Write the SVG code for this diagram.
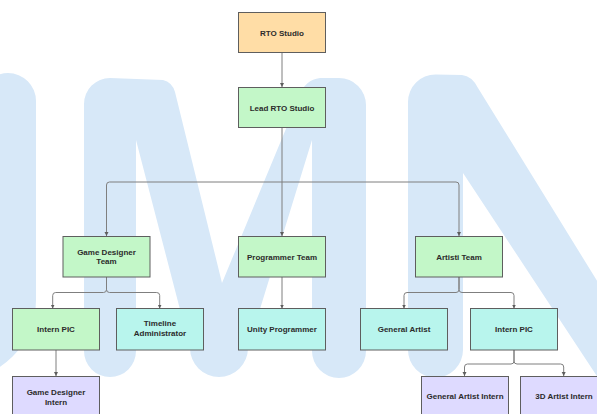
<svg xmlns="http://www.w3.org/2000/svg" width="597" height="414" viewBox="0 0 597 414">
<defs>
<style>
.box{stroke:#5e5e5e;stroke-width:1}
.or{fill:#ffdda6}.gr{fill:#c3f7c8}.cy{fill:#b8f5ed}.pu{fill:#dedaff}
.t{font-family:"Liberation Sans",Arial,sans-serif;font-size:8px;font-weight:bold;fill:#2b2b2b;text-anchor:middle}
.c{fill:none;stroke:#7f7f7f;stroke-width:1;marker-end:url(#arr)}
.wm{fill:#d7e8f8}
</style>
<marker id="arr" markerWidth="5" markerHeight="5" refX="4" refY="2.5" orient="auto" markerUnits="userSpaceOnUse">
<path d="M0,0.5 L4,2.5 L0,4.5 z" fill="#5e5e5e"/>
</marker>
</defs>
<rect width="597" height="414" fill="#ffffff"/>
<g id="watermark">
<path class="wm" d="M-20,101 A28,28 0 0 1 36,101 L36,300 A80,80 0 0 1 -44,380 Z"/>
<path class="wm" d="M84,351 L84,104 A26,26 0 0 1 110,78 L163,80 Q172,82 175,92 L222,283 L300,95 Q305,80 320,78 L339,78 A27,27 0 0 1 366,105 L366,351 A27,27 0 0 1 312,351 L312,140 L248,348 A29,29 0 0 1 190,348 L136,140 L136,351 A26,26 0 0 1 84,351 Z"/>
<path class="wm" d="M408,350 L408,102 A27.5,27.5 0 0 1 435.5,74.5 L462,75 Q472,76 478,88 L620,318 L620,411 L463,173 L463,350 A27.5,27.5 0 0 1 408,350 Z"/>
</g>
<g id="connectors">
<path class="c" d="M282,53 V87"/>
<path class="c" d="M282,128 V236"/>
<path class="c" d="M282,182 H109.5 Q106.5,182 106.5,185 V236"/>
<path class="c" d="M282,182 H456 Q459,182 459,185 V236"/>
<path class="c" d="M106.5,277 V289.5 Q106.5,292.5 103.5,292.5 H55.7 Q52.7,292.5 52.7,295.5 V308.5"/>
<path class="c" d="M106.5,277 V289.5 Q106.5,292.5 109.5,292.5 H156.7 Q159.7,292.5 159.7,295.5 V308.5"/>
<path class="c" d="M282,277 V308.5"/>
<path class="c" d="M459,277 V289.5 Q459,292.5 456,292.5 H407 Q404,292.5 404,295.5 V308.5"/>
<path class="c" d="M459,277 V289.5 Q459,292.5 462,292.5 H511 Q514,292.5 514,295.5 V308.5"/>
<path class="c" d="M56,350 V376"/>
<path class="c" d="M514,350 V361 Q514,364 511,364 H467.5 Q464.5,364 464.5,367 V376"/>
<path class="c" d="M514,350 V361 Q514,364 517,364 H560.7 Q563.7,364 563.7,367 V376"/>
</g>
<g id="rto-studio"><rect class="box or" x="238.5" y="12.5" width="87" height="40"/><text class="t" x="282" y="35.5">RTO Studio</text></g>
<g id="lead-rto-studio"><rect class="box gr" x="238.5" y="87.5" width="87" height="40"/><text class="t" x="282" y="110.5">Lead RTO Studio</text></g>
<g id="game-designer-team"><rect class="box gr" x="63" y="236.5" width="87" height="40.5"/><text class="t" x="106.5" y="254.5">Game Designer</text><text class="t" x="106.5" y="264">Team</text></g>
<g id="programmer-team"><rect class="box gr" x="238.5" y="236.5" width="87" height="40.5"/><text class="t" x="282" y="259.5">Programmer Team</text></g>
<g id="artisti-team"><rect class="box gr" x="415.5" y="236.5" width="87" height="40.5"/><text class="t" x="459" y="259.5">Artisti Team</text></g>
<g id="intern-pic-gd"><rect class="box gr" x="12.5" y="308.5" width="87" height="41.5"/><text class="t" x="56" y="332.3">Intern PIC</text></g>
<g id="timeline-administrator"><rect class="box cy" x="116.5" y="308.5" width="87" height="41.5"/><text class="t" x="160" y="326.2">Timeline</text><text class="t" x="160" y="336">Administrator</text></g>
<g id="unity-programmer"><rect class="box cy" x="238.5" y="308.5" width="87" height="41.5"/><text class="t" x="282" y="332.3">Unity Programmer</text></g>
<g id="general-artist"><rect class="box cy" x="360.5" y="308.5" width="87" height="41.5"/><text class="t" x="404" y="332.3">General Artist</text></g>
<g id="intern-pic-art"><rect class="box cy" x="470.5" y="308.5" width="87" height="41.5"/><text class="t" x="514" y="332.3">Intern PIC</text></g>
<g id="game-designer-intern"><rect class="box pu" x="12.5" y="376.5" width="87" height="41"/><text class="t" x="56" y="395">Game Designer</text><text class="t" x="56" y="404.5">Intern</text></g>
<g id="general-artist-intern"><rect class="box pu" x="421.5" y="376.5" width="87" height="41"/><text class="t" x="465" y="399">General Artist Intern</text></g>
<g id="3d-artist-intern"><rect class="box pu" x="520.5" y="376.5" width="87" height="41"/><text class="t" x="564" y="399">3D Artist Intern</text></g>
</svg>
